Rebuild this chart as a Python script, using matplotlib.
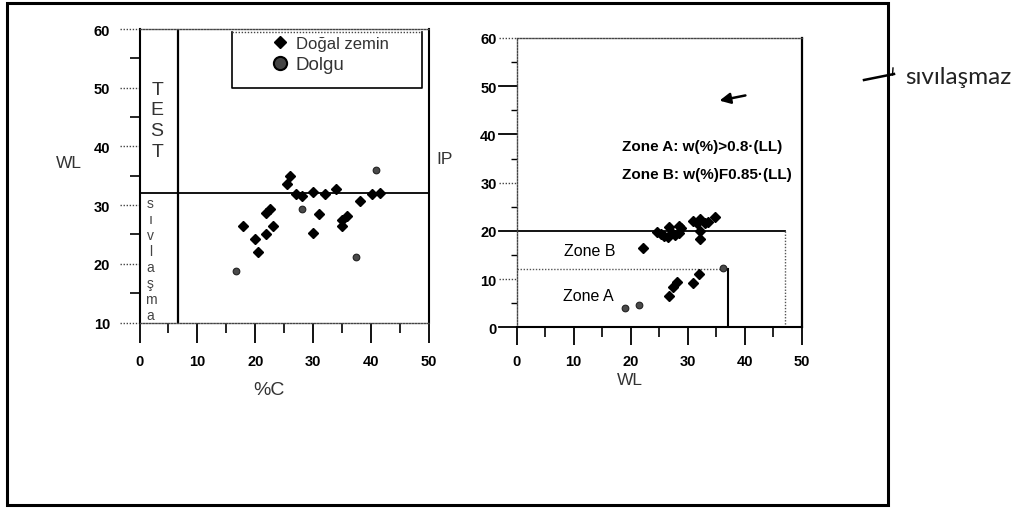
import matplotlib
matplotlib.use("Agg")
import matplotlib.pyplot as plt
from matplotlib.lines import Line2D
from matplotlib.patches import Rectangle
from matplotlib import transforms as mtransforms

plt.rcParams["font.family"] = ["Liberation Sans", "DejaVu Sans"]

# Left panel: clay content (%C) against liquid limit (WL)
c_natural = [17.9, 19.9, 20.5, 21.8, 21.9, 22.5, 23.0, 25.4, 26.0, 27.0, 28.1,
             30.0, 30.0, 31.0, 32.1, 34.0, 35.0, 35.0, 35.9, 38.1, 40.1, 41.6]
wl_natural = [26.5, 24.3, 22.0, 25.1, 28.7, 29.3, 26.5, 33.6, 34.9, 31.9, 31.6,
              32.2, 25.2, 28.5, 31.9, 32.7, 27.5, 26.5, 28.2, 30.7, 31.9, 32.0]
c_fill = [16.6, 28.0, 37.4, 40.8]
wl_fill = [18.8, 29.3, 21.1, 36.0]

# Right panel: liquid limit (WL) against plasticity index (IP)
wl_r_natural = [22.2, 24.7, 25.3, 25.8, 26.6, 26.8, 27.2, 27.8, 28.4, 28.5, 28.9,
                31.0, 31.7, 32.2, 32.2, 32.2, 33.0, 33.6, 34.8,
                26.8, 27.5, 28.2, 31.0, 32.0]
ip_r_natural = [16.5, 19.8, 19.3, 18.9, 18.8, 20.7, 19.6, 19.1, 19.6, 21.0, 20.5,
                22.1, 21.6, 22.5, 20.0, 18.3, 21.7, 21.9, 22.8,
                6.4, 8.4, 9.3, 9.1, 11.0]
wl_r_fill = [19.0, 21.5, 36.2]
ip_r_fill = [3.9, 4.6, 12.2]

# Criteria boundaries
wl_limit = 32
c_limit = 6.6
zone_a_ip, zone_a_wl = 12, 37
zone_b_ip, zone_b_wl = 20, 47

left_xticks = [0, 10, 20, 30, 40, 50]
left_xminor = [5, 15, 25, 35, 45]
left_yticks = [10, 20, 30, 40, 50, 60]
left_yminor = [15, 25, 35, 45, 55]
right_xticks = [0, 10, 20, 30, 40, 50]
right_xminor = [5, 15, 25, 35, 45]
right_yticks = [0, 10, 20, 30, 40, 50, 60]
right_yminor = [5, 15, 25, 35, 45, 55]

label_natural = "Doğal zemin"
label_fill = "Dolgu"

W, H = 1021, 510
fig = plt.figure(figsize=(W / 100, H / 100), dpi=100)
axL = fig.add_axes([139.5 / W, 1 - 323.5 / H, 289.5 / W, 293.5 / H])
axR = fig.add_axes([516.7 / W, 1 - 328.3 / H, 285.0 / W, 289.3 / H])

tick_font = dict(fontsize=10.5, fontweight="bold")
txt = "#333333"


def major_yticks(ax, values, length_px, dotted):
    trans = mtransforms.blended_transform_factory(ax.transAxes, ax.transData)
    frac = length_px / (ax.get_position().width * W)
    for v in values:
        if v in dotted:
            ax.plot([-frac, 0], [v, v], transform=trans, ls=(0, (1, 1.2)),
                    lw=1.0, color="#444444", clip_on=False)
        else:
            ax.plot([-frac, 0], [v, v], transform=trans, ls="-",
                    lw=1.3, color="black", clip_on=False)


# ---------------- left panel ----------------
axL.set_xlim(0, 50)
axL.set_ylim(10, 60)
axL.set_xticks(left_xticks)
axL.set_xticks(left_xminor, minor=True)
axL.set_yticks(left_yticks)
axL.set_yticks(left_yminor, minor=True)
axL.set_xticklabels([str(v) for v in left_xticks], **tick_font)
axL.set_yticklabels([str(v) for v in left_yticks], **tick_font)
axL.tick_params(axis="x", which="major", length=14.2, width=1.3, pad=8.5, direction="out")
axL.tick_params(axis="x", which="minor", length=7.2, width=1.2, direction="out")
axL.tick_params(axis="y", which="major", length=0, pad=21.2)
axL.tick_params(axis="y", which="minor", length=7.2, width=1.2, direction="out")
major_yticks(axL, left_yticks, 20, dotted=set(left_yticks))

for side in ("left", "right"):
    axL.spines[side].set_linewidth(1.5)
for side in ("top", "bottom"):
    axL.spines[side].set_linestyle((0, (1, 1.2)))
    axL.spines[side].set_linewidth(1.0)
    axL.spines[side].set_color("#444444")

axL.axhline(wl_limit, color="black", lw=1.3)
axL.axvline(c_limit, color="black", lw=1.6)

axL.plot(c_natural, wl_natural, ls="none", marker="D", ms=4.8, color="black")
axL.plot(c_fill, wl_fill, ls="none", marker="o", ms=4.8,
         mfc="#4a4a4a", mec="#222222", mew=0.8)

# vertical lettering in the narrow strip
for i, ch in enumerate("TEST"):
    axL.annotate(ch, xy=(3.04, 49.0), xytext=(0, -i * 15.05), textcoords="offset points",
                 ha="center", va="baseline", fontsize=14, color=txt)
for i, ch in enumerate("sıvlaşma"):
    axL.annotate(ch, xy=(1.9, 29.66), xytext=(0, -i * 11.52), textcoords="offset points",
                 ha="center", va="baseline", fontsize=10, color="#444444")

# legend with its own frame (dotted top edge)
bx0, bx1 = (232 - 139.5) / 289.5, (422 - 139.5) / 289.5
by0, by1 = (323.5 - 89) / 293.5, (323.5 - 33) / 293.5
axL.plot([bx0, bx0, bx1, bx1], [by1, by0, by0, by1], transform=axL.transAxes,
         color="black", lw=1.2)
axL.plot([bx0, bx1], [by1, by1], transform=axL.transAxes,
         color="#444444", lw=1.0, ls=(0, (1, 1.2)))
handles = [
    Line2D([], [], ls="none", marker="D", ms=6.0, color="black"),
    Line2D([], [], ls="none", marker="o", ms=9.5, mfc="#444444", mec="black", mew=1.5),
]
leg = axL.legend(handles, [label_natural, label_fill], loc="upper left",
                 bbox_to_anchor=((271.5 - 139.5) / 289.5, (323.5 - 37) / 293.5),
                 frameon=False, fontsize=12, borderpad=0, borderaxespad=0,
                 handlelength=1.0, handletextpad=0.45, labelspacing=0.3)
leg.get_texts()[1].set_fontsize(13.5)
for t in leg.get_texts():
    t.set_color(txt)

axL.set_xlabel("%C", fontsize=14, color=txt)
axL.xaxis.set_label_coords((269 - 139.5) / 289.5, (323.5 - 382) / 293.5)
axL.set_ylabel("WL", fontsize=12.5, color=txt, rotation=0, ha="center", va="center")
axL.yaxis.set_label_coords((68.5 - 139.5) / 289.5, (323.5 - 163.5) / 293.5)

# ---------------- right panel ----------------
axR.set_xlim(0, 50)
axR.set_ylim(0, 60)
axR.set_xticks(right_xticks)
axR.set_xticks(right_xminor, minor=True)
axR.set_yticks(right_yticks)
axR.set_yticks(right_yminor, minor=True)
axR.set_xticklabels([str(v) for v in right_xticks], **tick_font)
axR.set_yticklabels([str(v) for v in right_yticks], **tick_font)
axR.tick_params(axis="x", which="major", length=13.2, width=1.3, pad=6.2, direction="out")
axR.tick_params(axis="x", which="minor", length=7.2, width=1.2, direction="out")
axR.tick_params(axis="y", which="major", length=0, pad=14.4)
axR.tick_params(axis="y", which="minor", length=4.3, width=1.0, direction="out")
major_yticks(axR, right_yticks, 18, dotted={60, 30, 10})

for side in ("left", "top"):
    axR.spines[side].set_linestyle((0, (1, 1.2)))
    axR.spines[side].set_linewidth(1.0)
    axR.spines[side].set_color("#444444")
axR.spines["right"].set_linewidth(1.6)
axR.spines["bottom"].set_linewidth(1.5)

axR.plot([0, zone_b_wl], [zone_b_ip, zone_b_ip], color="black", lw=1.3)
axR.plot([zone_b_wl, zone_b_wl], [zone_b_ip, 0], color="#555555", lw=1.0, ls=(0, (1, 1.2)))
axR.plot([0, zone_a_wl], [zone_a_ip, zone_a_ip], color="#555555", lw=1.0, ls=(0, (1, 1.2)))
axR.plot([zone_a_wl, zone_a_wl], [zone_a_ip, 0], color="black", lw=1.5)

axR.plot(wl_r_natural, ip_r_natural, ls="none", marker="D", ms=4.8, color="black")
axR.plot(wl_r_fill, ip_r_fill, ls="none", marker="o", ms=4.8,
         mfc="#4a4a4a", mec="#222222", mew=0.8)

axR.text(12.9, 16.0, "Zone B", fontsize=11.5, ha="center", va="center", color="black")
axR.text(12.5, 6.5, "Zone A", fontsize=11.5, ha="center", va="center", color="black")
axR.text(18.4, 37.5, "Zone A: w(%)>0.8·(LL)", fontsize=11, fontweight="bold",
         ha="left", va="center")
axR.text(18.4, 31.7, "Zone B: w(%)F0.85·(LL)", fontsize=11, fontweight="bold",
         ha="left", va="center")
axR.annotate("", xy=(35.1, 46.9), xytext=(40.6, 48.2),
             arrowprops=dict(arrowstyle="-|>", color="black", lw=1.8, mutation_scale=16))

axR.set_xlabel("WL", fontsize=12.5, color=txt)
axR.xaxis.set_label_coords((629.5 - 516.7) / 285.0, (328.3 - 373) / 289.3)
axR.set_ylabel("IP", fontsize=12.5, color=txt, rotation=0, ha="center", va="center")
axR.yaxis.set_label_coords((445 - 516.7) / 285.0, (328.3 - 160) / 289.3)

# outer frame and the side annotation
fig.add_artist(Rectangle((7 / W, 1 - 506 / H), 881 / W, 502 / H, transform=fig.transFigure,
                         fill=False, lw=2.2, ec="black"))
fig.add_artist(Line2D([864 / W, 894 / W], [1 - 81 / H, 1 - 75 / H],
                      transform=fig.transFigure, lw=1.8, color="black"))
fig.add_artist(Line2D([892.5 / W, 893 / W], [1 - 76 / H, 1 - 69 / H],
                      transform=fig.transFigure, lw=1.0, color="black"))
fig.text(905 / W, 1 - 78 / H, "sıvılaşmaz", fontsize=17.5, family=["Lato", "DejaVu Sans"],
         ha="left", va="center", color="#222222")

fig.savefig("out.png", dpi=100)
